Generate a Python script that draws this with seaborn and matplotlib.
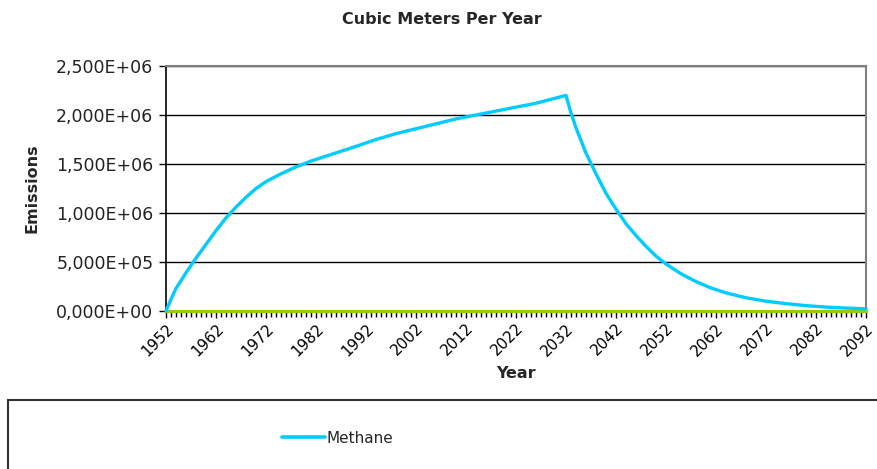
import numpy as np
import pandas as pd
import matplotlib
matplotlib.use("Agg")
import matplotlib.pyplot as plt
import matplotlib.ticker as mticker
from matplotlib.patches import Rectangle
from matplotlib.lines import Line2D
import seaborn as sns

# values
years = [1952, 1953, 1954, 1956, 1958, 1960, 1962, 1964, 1966, 1968, 1970,
         1972, 1975, 1978, 1981, 1984, 1987, 1990, 1994, 1998, 2002, 2006,
         2010, 2014, 2018, 2022, 2026, 2029, 2032, 2033, 2034, 2036, 2038,
         2040, 2042, 2044, 2046, 2048, 2050, 2052, 2055, 2058, 2061, 2064,
         2068, 2072, 2076, 2080, 2084, 2088, 2092]
methane = [0, 0.12e6, 0.23e6, 0.39e6, 0.54e6, 0.68e6, 0.82e6, 0.95e6, 1.06e6,
           1.16e6, 1.25e6, 1.32e6, 1.40e6, 1.47e6, 1.53e6, 1.58e6, 1.63e6,
           1.68e6, 1.75e6, 1.81e6, 1.86e6, 1.91e6, 1.96e6, 2.00e6, 2.04e6,
           2.08e6, 2.12e6, 2.16e6, 2.20e6, 2.02e6, 1.87e6, 1.61e6, 1.40e6,
           1.20e6, 1.04e6, 0.89e6, 0.77e6, 0.66e6, 0.56e6, 0.48e6, 0.38e6,
           0.30e6, 0.235e6, 0.185e6, 0.135e6, 0.10e6, 0.075e6, 0.055e6,
           0.040e6, 0.030e6, 0.022e6]
other = [0] * len(years)

df = pd.DataFrame({"Year": years, "Methane": methane, "Other": other})

sns.set_style("white")
plt.rcParams["font.family"] = ["DejaVu Sans"]

fig = plt.figure(figsize=(8.78, 4.69), dpi=100)
ax = fig.add_axes([166 / 878, 1 - 311 / 469, 700 / 878, 245 / 469])

sns.lineplot(data=df, x="Year", y="Other", color="#99cc00", linewidth=2.2,
             ax=ax, zorder=5, clip_on=False)
sns.lineplot(data=df, x="Year", y="Methane", color="#00ccff", linewidth=2.4,
             ax=ax, zorder=6, clip_on=False)

ax.set_xlim(1952, 2092)
ax.set_ylim(0, 2.5e6)
ax.yaxis.set_major_locator(mticker.MultipleLocator(5e5))
ax.yaxis.set_major_formatter(
    mticker.FuncFormatter(lambda v, p: f"{v:.3E}".replace(".", ",")))
ax.xaxis.set_major_locator(mticker.FixedLocator(list(range(1952, 2093, 10))))
ax.xaxis.set_minor_locator(mticker.MultipleLocator(1))
ax.grid(axis="y", color="black", linewidth=1)
ax.set_axisbelow(True)

for s in ["top", "right"]:
    ax.spines[s].set_color("#808080")
    ax.spines[s].set_linewidth(1.5)
for s in ["left", "bottom"]:
    ax.spines[s].set_color("black")
    ax.spines[s].set_linewidth(1.2)
    ax.spines[s].set_zorder(2)

ax.tick_params(axis="y", which="major", left=True, length=5, width=1,
               color="black", labelsize=12.5, labelcolor="#222222", pad=4)
ax.tick_params(axis="x", which="major", bottom=True, length=5, width=1,
               color="black", labelsize=11, labelcolor="black", pad=2)
ax.tick_params(axis="x", which="minor", bottom=True, length=4, width=1,
               color="black")
for lab in ax.get_xticklabels():
    lab.set_rotation(45)
    lab.set_ha("right")
    lab.set_rotation_mode("anchor")

ax.set_xlabel("Year", fontsize=11.5, fontweight="bold", labelpad=5)
ax.set_ylabel("Emissions", fontsize=11.5, fontweight="bold", labelpad=12)
fig.text(442 / 878, 1 - 19 / 469, "Cubic Meters Per Year", ha="center",
         va="center", fontsize=11.5, fontweight="bold")

# legend box along the bottom
fig.patches.append(Rectangle((8 / 878, -0.05), 1.0, 1 - 400 / 469 + 0.05,
                             transform=fig.transFigure, fill=False,
                             edgecolor="#333333", linewidth=1.5))
handle = Line2D([], [], color="#00ccff", linewidth=2.6)
fig.legend([handle], ["Methane"], loc="center left",
           bbox_to_anchor=(268 / 878, 1 - 438 / 469), frameon=False,
           fontsize=11, handlelength=2.8, handletextpad=0.1)

fig.savefig("out.png", dpi=100)
